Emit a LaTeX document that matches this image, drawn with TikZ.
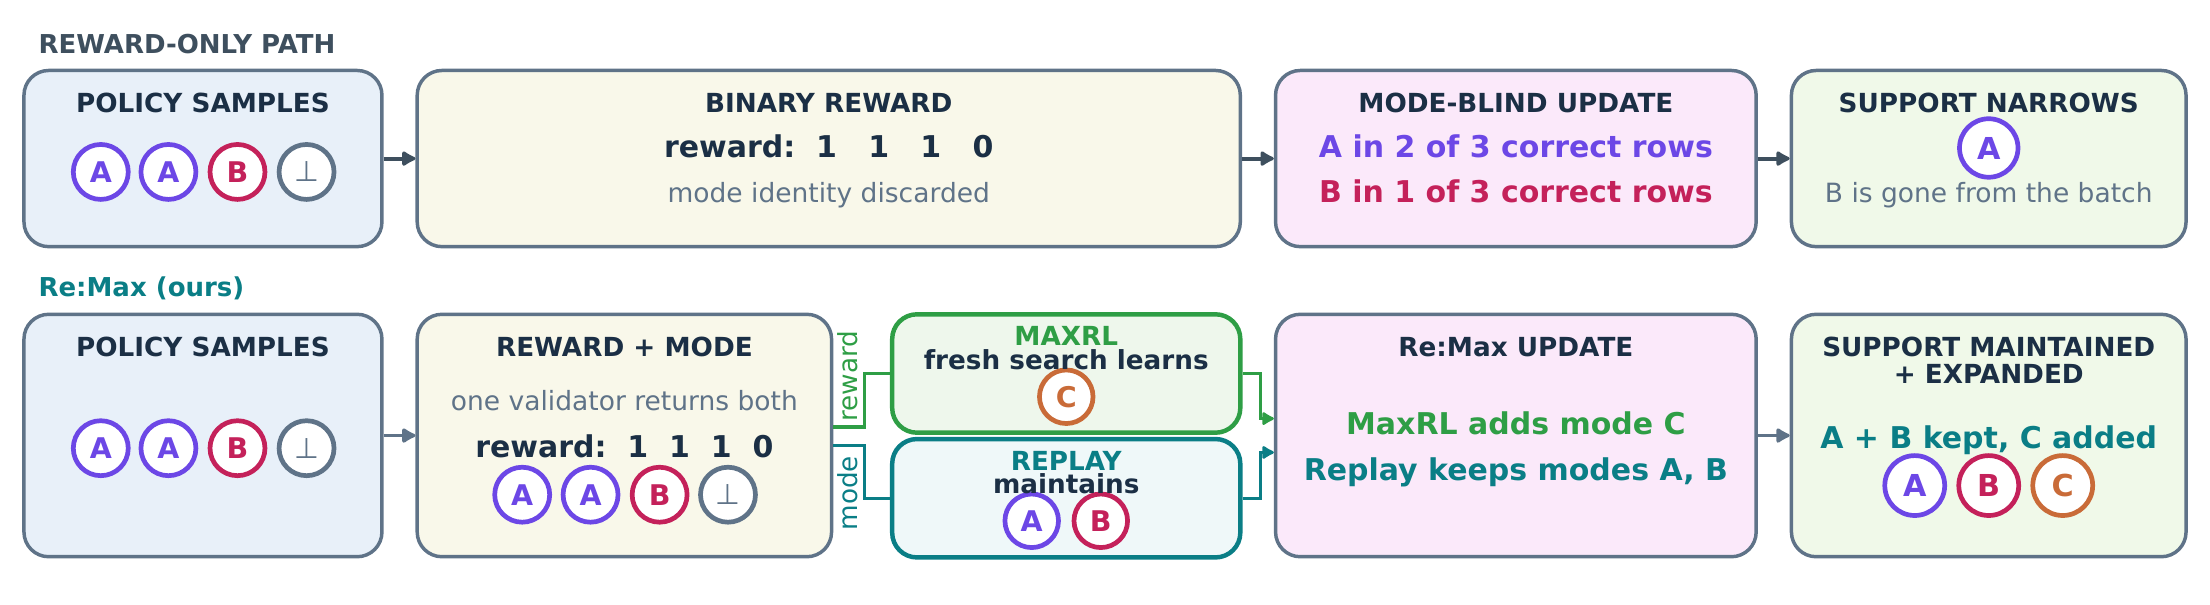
\documentclass[tikz,border=0pt]{standalone}
\usepackage{fontspec}
\setmainfont{DejaVu Sans}
\usepackage{xcolor}
\usetikzlibrary{arrows.meta, positioning, calc}
\definecolor{ink}{HTML}{1B2F45}
\definecolor{slate}{HTML}{5F7388}
\definecolor{darkslate}{HTML}{3E4F5E}
\definecolor{purp}{HTML}{6C47E6}
\definecolor{crim}{HTML}{C4215A}
\definecolor{orng}{HTML}{C96B38}
\definecolor{grn}{HTML}{2E9E45}
\definecolor{tealc}{HTML}{0A7E86}
\definecolor{fblue}{HTML}{E8F0F9}
\definecolor{fcream}{HTML}{F9F8EA}
\definecolor{fpink}{HTML}{FBE9FA}
\definecolor{fgreen}{HTML}{F0F9E9}
\definecolor{fmx}{HTML}{EEF7EC}
\definecolor{frp}{HTML}{EFF8F9}
\tikzset{every node/.append style={align=center, inner sep=3pt}}

\begin{document}
\begin{tikzpicture}[
    box/.style={rectangle, rounded corners=10pt, draw=slate, line width=1.4pt,
        minimum height=2.5cm},
    tallbox/.style={box, minimum height=3.44cm},
    sub/.style={rectangle, rounded corners=10pt, line width=1.8pt,
        minimum width=4.94cm, minimum height=1.68cm},
    hd/.style={font=\fontsize{10.6}{10.8}\selectfont\bfseries, text=ink,
        anchor=base, inner sep=0pt},
    big/.style={font=\fontsize{12.1}{14}\selectfont\bfseries, text=ink,
        anchor=base, inner sep=0pt},
    note/.style={font=\fontsize{10.7}{12}\selectfont, text=slate,
        anchor=base, inner sep=0pt},
    lane/.style={font=\fontsize{10.5}{12}\selectfont\bfseries,
        anchor=base west, inner sep=0pt},
    tok/.style={circle, draw=#1, line width=1.9pt, fill=white, text=#1,
        minimum size=0.78cm, inner sep=0pt, font=\fontsize{11.5}{12}\selectfont\bfseries},
    bigtok/.style={tok=#1, minimum size=0.85cm, font=\fontsize{12.2}{13}\selectfont\bfseries},
    bot/.style={tok=slate, font=\fontsize{11.5}{12}\selectfont},
    wlab/.style={font=\fontsize{10.6}{12}\selectfont, rotate=90, anchor=base,
        inner sep=0pt},
    a/.style={-{Latex[length=2.3mm,width=2.6mm,round]}, line width=1.6pt, darkslate},
    wire/.style={line width=1.3pt},
    tip/.style={-{Latex[length=2mm,width=2.3mm,round]}}
]
\useasboundingbox (0,0) rectangle (31.36,-8.58);
% ===== REWARD-ONLY PATH =====
\node[lane, darkslate] (lane1) at (0.54,-0.76) {REWARD-ONLY PATH};
\node[box, fill=fblue, minimum width=5.08cm] (ps1) at (2.88,-2.25) {};
\node[box, fill=fcream, minimum width=11.68cm] (bin) at (11.76,-2.25) {};
\node[box, fill=fpink, minimum width=6.82cm] (blind) at (21.51,-2.25) {};
\node[box, fill=fgreen, minimum width=5.6cm] (narrow) at (28.22,-2.25) {};
\draw[a] (ps1)--(bin); \draw[a] (bin)--(blind); \draw[a] (blind)--(narrow);

\node[hd] (ps1h) at (2.88,-1.59) {POLICY SAMPLES};
\node[tok=purp] (ps1a) at (1.43,-2.44) {A};
\node[tok=purp] (ps1b) at (2.39,-2.44) {A};
\node[tok=crim] (ps1c) at (3.37,-2.44) {B};
\node[bot] (ps1d) at (4.35,-2.44) {⊥};

\node[hd] (binh) at (11.76,-1.59) {BINARY REWARD};
\node[big] (binr) at (11.76,-2.24) {reward:~~1~~~1~~~1~~~0};
\node[note] (binn) at (11.76,-2.88) {mode identity discarded};

\node[hd] (blindh) at (21.51,-1.59) {MODE-BLIND UPDATE};
\node[big, text=purp] (blinda) at (21.51,-2.24) {A in 2 of 3 correct rows};
\node[big, text=crim] (blindb) at (21.51,-2.88) {B in 1 of 3 correct rows};

\node[hd] (narrowh) at (28.22,-1.59) {SUPPORT NARROWS};
\node[bigtok=purp, minimum size=0.83cm] (narrowa) at (28.22,-2.1) {A};
\node[note] (narrown) at (28.22,-2.88) {B is gone from the batch};

% ===== Re:Max =====
\node[lane, tealc] (lane2) at (0.54,-4.21) {Re:Max (ours)};
\node[tallbox, fill=fblue, minimum width=5.08cm] (ps2) at (2.88,-6.18) {};
\node[tallbox, fill=fcream, minimum width=5.88cm] (rm) at (8.86,-6.18) {};
\node[sub, draw=grn, fill=fmx] (mx) at (15.13,-5.30) {};
\node[sub, draw=tealc, fill=frp] (rp) at (15.13,-7.07) {};
\node[tallbox, fill=fpink, minimum width=6.82cm] (upd) at (21.51,-6.18) {};
\node[tallbox, fill=fgreen, minimum width=5.6cm] (sup) at (28.22,-6.18) {};
\draw[a, slate] (ps2)--(rm); \draw[a, slate] (upd)--(sup);

\node[hd] (ps2h) at (2.88,-5.06) {POLICY SAMPLES};
\node[tok=purp] (ps2a) at (1.43,-6.36) {A};
\node[tok=purp] (ps2b) at (2.39,-6.36) {A};
\node[tok=crim] (ps2c) at (3.37,-6.36) {B};
\node[bot] (ps2d) at (4.35,-6.36) {⊥};

\node[hd] (rmh) at (8.86,-5.06) {REWARD + MODE};
\node[note] (rmn) at (8.86,-5.82) {one validator returns both};
\node[big] (rmr) at (8.86,-6.49) {reward:~~1~~1~~1~~0};
\node[tok=purp] (rma) at (7.41,-7.02) {A};
\node[tok=purp] (rmb) at (8.38,-7.02) {A};
\node[tok=crim] (rmc) at (9.36,-7.02) {B};
\node[bot] (rmd) at (10.33,-7.02) {⊥};

% reward / mode split
\draw[wire, grn] ([yshift=0.12cm]rm.east) -- ++(0.44,0) |- (mx.west);
\draw[wire, tealc] ([yshift=-0.14cm]rm.east) -- ++(0.44,0) |- (rp.west);
\node[wlab, grn] (lrew) at (12.17,-5.34) {reward};
\node[wlab, tealc] (lmode) at (12.17,-7.0) {mode};

\node[tok=orng, minimum size=0.76cm] (mxc) at (15.13,-5.63) {C};
\node[hd, text=grn] (mxh) at (15.13,-4.9) {MAXRL};
\node[hd] (mxt) at (15.13,-5.25) {fresh search learns};

\node[tok=purp, minimum size=0.76cm] (rpa) at (14.64,-7.39) {A};
\node[tok=crim, minimum size=0.76cm] (rpb) at (15.62,-7.39) {B};
\node[hd, text=tealc] (rph) at (15.13,-6.67) {REPLAY};
\node[hd] (rpt) at (15.13,-7.0) {maintains};

\draw[wire, grn, tip] (mx.east) -- ++(0.26,0) |- ([yshift=0.24cm]upd.west);
\draw[wire, tealc, tip] (rp.east) -- ++(0.26,0) |- ([yshift=-0.24cm]upd.west);

\node[hd] (updh) at (21.51,-5.06) {Re:Max UPDATE};
\node[big, text=grn] (upda) at (21.51,-6.16) {MaxRL adds mode C};
\node[big, text=tealc] (updb) at (21.51,-6.82) {Replay keeps modes A, B};

\node[hd, anchor=north] (suph) at (28.22,-4.78) {SUPPORT MAINTAINED\\+ EXPANDED};
\node[big, text=tealc] (supt) at (28.22,-6.36) {A + B kept, C added};
\node[bigtok=purp] (supa) at (27.17,-6.89) {A};
\node[bigtok=crim] (supb) at (28.22,-6.89) {B};
\node[bigtok=orng] (supc) at (29.27,-6.89) {C};
\end{tikzpicture}
\end{document}
